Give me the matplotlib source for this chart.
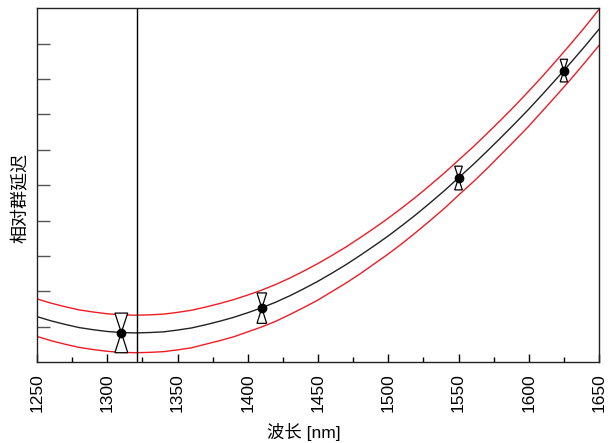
import matplotlib
matplotlib.use("Agg")
import matplotlib.pyplot as plt
import numpy as np

plt.rcParams['font.family'] = ['Liberation Sans', 'Noto Sans CJK SC', 'DejaVu Sans']

# curve samples (nm, relative delay)
wavelength = [1250, 1260, 1270, 1280, 1290, 1300, 1310, 1320, 1330, 1340,
              1350, 1360, 1370, 1380, 1390, 1400, 1410, 1420, 1430, 1440,
              1450, 1460, 1470, 1480, 1490, 1500, 1510, 1520, 1530, 1540,
              1550, 1560, 1570, 1580, 1590, 1600, 1610, 1620, 1630, 1640, 1650]
delay = [1.29, 1.17, 1.07, 0.98, 0.92, 0.87, 0.84, 0.83, 0.84, 0.86,
         0.91, 0.97, 1.06, 1.16, 1.27, 1.40, 1.54, 1.70, 1.88, 2.08,
         2.29, 2.52, 2.76, 3.02, 3.29, 3.57, 3.87, 4.18, 4.51, 4.85,
         5.21, 5.57, 5.95, 6.34, 6.74, 7.15, 7.58, 8.02, 8.47, 8.93, 9.41]
delay_upper = [1.79, 1.67, 1.57, 1.48, 1.42, 1.37, 1.34, 1.33, 1.34, 1.36,
               1.41, 1.47, 1.56, 1.66, 1.77, 1.90, 2.04, 2.20, 2.38, 2.58,
               2.79, 3.02, 3.26, 3.52, 3.79, 4.07, 4.37, 4.68, 5.01, 5.35,
               5.71, 6.07, 6.45, 6.84, 7.24, 7.66, 8.09, 8.54, 9.00, 9.47, 9.97]
delay_lower = [0.73, 0.61, 0.51, 0.42, 0.36, 0.31, 0.28, 0.27, 0.28, 0.30,
               0.35, 0.41, 0.51, 0.61, 0.72, 0.86, 1.00, 1.16, 1.35, 1.55,
               1.76, 2.00, 2.24, 2.50, 2.78, 3.06, 3.36, 3.68, 4.01, 4.35,
               4.72, 5.08, 5.46, 5.86, 6.26, 6.67, 7.11, 7.55, 8.00, 8.47, 8.95]

# measured points with their error ranges
point_wl = [1310, 1410, 1550, 1625]
point_delay = [0.84, 1.53, 5.20, 8.23]
err_up = [0.55, 0.43, 0.34, 0.33]
err_down = [0.57, 0.43, 0.33, 0.31]

zero_disp_wl = 1321

fig = plt.figure(figsize=(6.09, 4.43), dpi=100)
ax = fig.add_axes([0.0608, 0.1822, 0.9228, 0.7991])

ax.plot(wavelength, delay_upper, color='#ee1c25', lw=1.0, zorder=2)
ax.plot(wavelength, delay_lower, color='#ee1c25', lw=1.0, zorder=2)
ax.plot(wavelength, delay, color='#222222', lw=1.0, zorder=2)
ax.axvline(zero_disp_wl, color='black', lw=1.0, zorder=2)

# hourglass error markers, half width scales with the error
for x, y, eu, ed in zip(point_wl, point_delay, err_up, err_down):
    w = 8 * max(eu, ed)
    ax.fill([x - w, x + w, x], [y + eu, y + eu, y], facecolor='white',
            edgecolor='black', lw=0.9, zorder=3)
    ax.fill([x - w, x + w, x], [y - ed, y - ed, y], facecolor='white',
            edgecolor='black', lw=0.9, zorder=3)
ax.plot(point_wl, point_delay, 'o', color='black', ms=6, zorder=4)

ax.set_xlim(1250, 1650)
ax.set_ylim(0, 10)
ax.set_xticks(np.arange(1250, 1651, 50))
ax.set_xticks(np.arange(1275, 1650, 50), minor=True)
ax.set_yticks(np.arange(1, 10))
ax.set_yticklabels([])
ax.tick_params(axis='x', which='major', direction='in', length=6, width=1,
               labelsize=12.5, labelrotation=90, pad=8)
ax.tick_params(axis='x', which='minor', direction='in', length=3.4, width=1)
ax.tick_params(axis='y', direction='in', length=9.5, width=1, color='#555555')
for s in ax.spines.values():
    s.set_linewidth(1.0)
    s.set_color('#222222')

ax.set_xlabel('波长 [nm]', fontsize=12.5)
ax.set_ylabel('相对群延迟', fontsize=13)
ax.xaxis.set_label_coords(0.475, -0.172)
ax.yaxis.set_label_coords(-0.013, 0.464)

fig.savefig('out.png', dpi=100)
